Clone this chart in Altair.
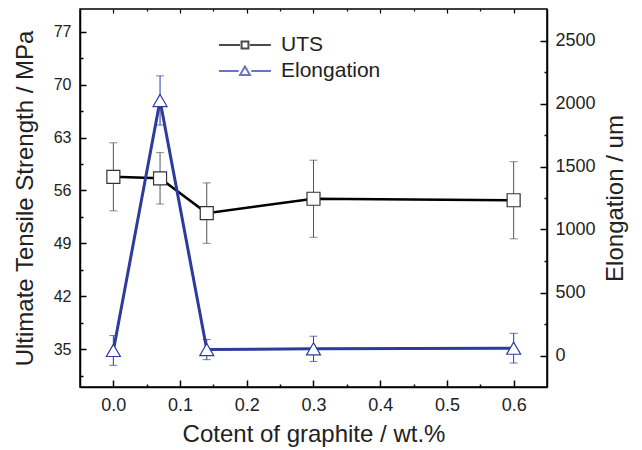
import altair as alt
import pandas as pd

# ---- data ----
content = [0.0, 0.07, 0.14, 0.3, 0.6]
uts = [57.8, 57.6, 53.0, 54.9, 54.7]
uts_err = [4.5, 3.4, 4.0, 5.1, 5.1]
elong = [40, 2024, 47, 53, 58]
elong_err = [118, 195, 80, 100, 118]
series = ["UTS", "Elongation"]

x_ticks = [round(i * 0.05, 2) for i in range(13)]
left_ticks = [31.5 + 3.5 * i for i in range(15)]
right_ticks = [250 * i for i in range(11)]

BLUE = "#2d3c9c"
GRAY = "#555555"
FONT = "Liberation Sans"

df = pd.DataFrame({
    "x": content,
    "uts": uts,
    "uts_lo": [u - e for u, e in zip(uts, uts_err)],
    "uts_hi": [u + e for u, e in zip(uts, uts_err)],
    "el": elong,
    "el_lo": [u - e for u, e in zip(elong, elong_err)],
    "el_hi": [u + e for u, e in zip(elong, elong_err)],
})
legend_df = pd.DataFrame({"series": series, "x": [-1, -1], "y": [0, 0]})

xscale = alt.Scale(domain=[-0.05, 0.65], nice=False, zero=False)
lscale = alt.Scale(domain=[30, 80], nice=False, zero=False)
rscale = alt.Scale(domain=[-250, 2750], nice=False, zero=False)

common_axis = dict(grid=False, domainColor="black", domainWidth=1.5,
                   tickColor="black", tickWidth=1.5, labelColor="#222222",
                   labelFont=FONT, titleFont=FONT, titleColor="#222222",
                   titleFontWeight="normal", titleFontSize=24)

xaxis = alt.Axis(
    values=x_ticks, format=".1f",
    labelExpr="round(datum.value*100) % 10 === 0 ? datum.label : ''",
    tickSize={"condition": {"test": "round(datum.value*100) % 10 === 0", "value": -7}, "value": -3},
    labelPadding=16, labelFontSize=18, titlePadding=8,
    title="Cotent of graphite / wt.%", **common_axis)

top_axis = alt.Axis(
    values=x_ticks, orient="top", labels=False, title=None, domain=False,
    tickSize={"condition": {"test": "round(datum.value*100) % 10 === 0", "value": -4}, "value": -2},
    grid=False, tickColor="black", tickWidth=1.2)

laxis = alt.Axis(
    values=left_ticks,
    labelExpr="datum.value % 7 === 0 ? datum.label : ''",
    tickSize={"condition": {"test": "datum.value % 7 === 0", "value": -6}, "value": -3},
    labelPadding=15, labelFontSize=16, titlePadding=16,
    title="Ultimate Tensile Strength / MPa", **common_axis)

raxis = alt.Axis(
    values=right_ticks, orient="right", format="d",
    labelExpr="datum.value % 500 === 0 ? datum.label : ''",
    tickSize={"condition": {"test": "datum.value % 500 === 0", "value": -7}, "value": -3},
    labelPadding=15, labelFontSize=18, titlePadding=32, titleAngle=270,
    title="Elongation / um", **common_axis)

X = alt.X("x:Q", scale=xscale, axis=xaxis)
XN = alt.X("x:Q", scale=xscale, axis=None)
YL = lambda f: alt.Y(f, scale=lscale, axis=laxis, title="Ultimate Tensile Strength / MPa")
YR = lambda f: alt.Y(f, scale=rscale, axis=raxis, title="Elongation / um")

base = alt.Chart(df)

uts_err_l = base.mark_errorbar(color=GRAY, thickness=1, ticks={"size": 8}).encode(
    x=X, y=YL("uts_lo:Q"), y2="uts_hi:Q")
uts_line = base.mark_line(color="black", strokeWidth=2.5).encode(x=X, y=YL("uts:Q"))
uts_pts = base.mark_point(shape="square", size=169, filled=True, fill="white",
                          stroke="#333333", strokeWidth=1.2, opacity=1).encode(
    x=X, y=YL("uts:Q"))

path_uts = "M-1.73,0H-0.33M0.33,0H1.73M-0.23,-0.23H0.23V0.23H-0.23Z"
path_el = "M-1.73,0H-0.42M0.42,0H1.73M0,-0.3L0.33,0.27H-0.33Z"
leg = alt.Legend(orient="none", legendX=149, legendY=20, title=None,
                 labelFontSize=21, labelFont=FONT, labelColor="#222222",
                 symbolSize=900, symbolStrokeWidth=2, labelOffset=20,
                 rowPadding=0, padding=0, symbolFillColor="white")
legend_layer = alt.Chart(legend_df).mark_point(clip=True, filled=False, strokeWidth=2).encode(
    x=X, y=YL("y:Q"),
    color=alt.Color("series:N", scale=alt.Scale(domain=series, range=["black", BLUE]),
                    legend=leg, sort=series),
    shape=alt.Shape("series:N", scale=alt.Scale(domain=series, range=[path_uts, path_el]),
                    legend=leg, sort=series),
)

el_err_l = base.mark_errorbar(color=BLUE, thickness=1, ticks={"size": 8}).encode(
    x=XN, y=YR("el_lo:Q"), y2="el_hi:Q")
el_line = base.mark_line(color=BLUE, strokeWidth=3).encode(x=XN, y=YR("el:Q"))
el_pts = base.mark_point(shape="triangle-up", size=196, filled=True, fill="white",
                         stroke=BLUE, strokeWidth=1.2, opacity=1).encode(
    x=XN, y=YR("el:Q"))

top_layer = base.mark_point(opacity=0).encode(
    x=alt.X("x:Q", scale=xscale, axis=top_axis),
    y=alt.Y("uts:Q", scale=lscale, axis=None))

left = alt.layer(uts_err_l, uts_line, uts_pts, legend_layer)
right = alt.layer(el_err_l, el_line, el_pts)

chart = alt.layer(left, right, top_layer).resolve_scale(y="independent").resolve_axis(
    x="independent").properties(
    width=467, height=378,
    padding={"left": 5, "top": 0, "right": 5, "bottom": 5},
).configure_view(stroke="black", strokeWidth=1.5).configure_legend(symbolStrokeWidth=2)

chart.save("out.html", embed_options={"renderer": "svg", "actions": False})
